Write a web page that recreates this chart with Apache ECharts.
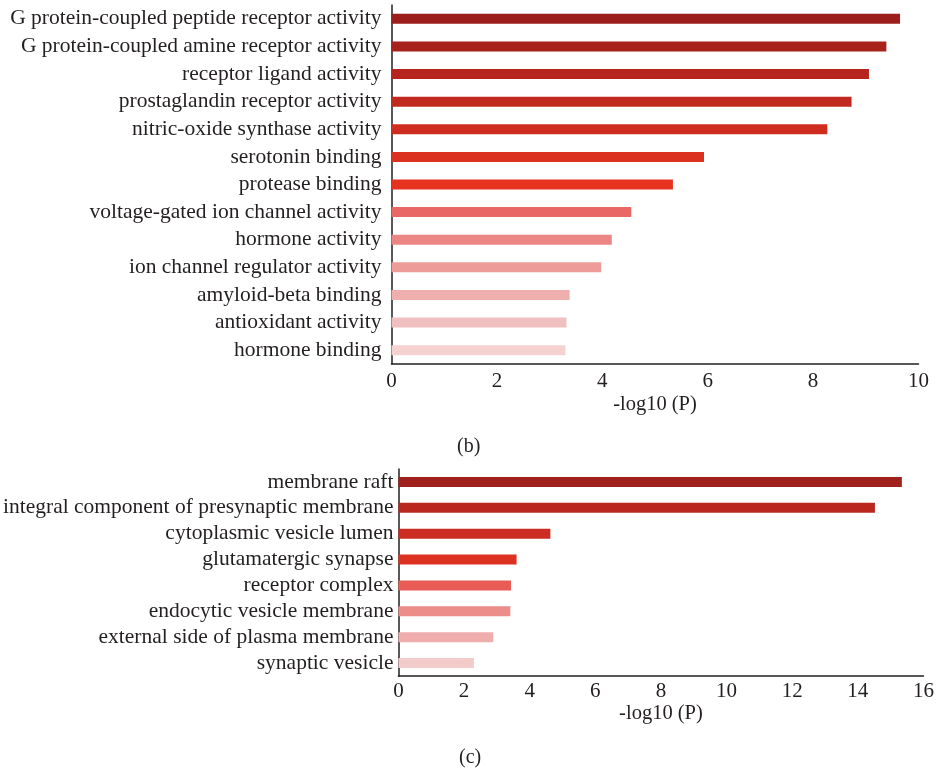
<!DOCTYPE html>
<html>
<head>
<meta charset="utf-8">
<script src="https://cdn.jsdelivr.net/npm/echarts@6/dist/echarts.min.js"></script>
<style>
  html, body { margin: 0; padding: 0; background: #ffffff; }
  #chart { width: 937px; height: 775px; }
</style>
</head>
<body>
<div id="chart"></div>
<script>
// (b) Molecular function terms, top to bottom
const mfTerms = [
  'G protein-coupled peptide receptor activity',
  'G protein-coupled amine receptor activity',
  'receptor ligand activity',
  'prostaglandin receptor activity',
  'nitric-oxide synthase activity',
  'serotonin binding',
  'protease binding',
  'voltage-gated ion channel activity',
  'hormone activity',
  'ion channel regulator activity',
  'amyloid-beta binding',
  'antioxidant activity',
  'hormone binding'
];
const mfValues = [9.65, 9.39, 9.06, 8.73, 8.27, 5.93, 5.34, 4.55, 4.18, 3.98, 3.38, 3.32, 3.30];
const mfColors = [
  '#9b1e1a', '#a8221c', '#b5251d', '#c1291e', '#cf2d1f', '#da3120', '#e53320',
  '#e96866', '#ec8684', '#ee9c9a', '#f0afaf', '#f0c0c0', '#f5d1d0'
];

// (c) Cellular component terms, top to bottom
const ccTerms = [
  'membrane raft',
  'integral component of presynaptic membrane',
  'cytoplasmic vesicle lumen',
  'glutamatergic synapse',
  'receptor complex',
  'endocytic vesicle membrane',
  'external side of plasma membrane',
  'synaptic vesicle'
];
const ccValues = [15.34, 14.52, 4.63, 3.60, 3.43, 3.41, 2.89, 2.30];
const ccColors = ['#a0201b', '#b9271f', '#cb2d22', '#dd3221', '#e95c55', '#ec8d8a', '#efadad', '#f3cbcb'];

// x-axis ticks
const mfAxisMax = 10;
const ccAxisMax = 16;
const tickStep = 2;
const axisTitle = '-log10 (P)';
const panelTags = ['(b)', '(c)'];

const FONT = 'Liberation Serif';
const INK = '#231f20';
const LABEL_SIZE = 21.5;

function barData(values, colors) {
  return values.map((v, i) => ({ value: v, itemStyle: { color: colors[i] } }));
}

function valueAxis(gridIndex, max, labelMargin, nameGap) {
  return {
    type: 'value', gridIndex, min: 0, max, interval: tickStep,
    name: axisTitle, nameLocation: 'middle', nameGap,
    nameTextStyle: { fontFamily: FONT, fontSize: 20.5, color: INK },
    axisLine: { show: true, lineStyle: { color: INK, width: 1.5 } },
    axisTick: { show: false },
    splitLine: { show: false },
    axisLabel: { fontFamily: FONT, fontSize: 21, color: INK, margin: labelMargin }
  };
}

function categoryAxis(gridIndex, terms, labelMargin) {
  return {
    type: 'category', gridIndex, data: terms, inverse: true,
    axisLine: { show: true, lineStyle: { color: INK, width: 1.5 } },
    axisTick: { show: false },
    axisLabel: { fontFamily: FONT, fontSize: LABEL_SIZE, color: INK, margin: labelMargin, interval: 0 }
  };
}

const chart = echarts.init(document.getElementById('chart'), null, { renderer: 'canvas' });
chart.setOption({
  backgroundColor: '#ffffff',
  animation: false,
  grid: [
    { left: 391.5, top: 5, width: 527, height: 359 },
    { left: 397.5, top: 469, width: 527.5, height: 207 }
  ],
  xAxis: [
    valueAxis(0, mfAxisMax, 7, 30),
    valueAxis(1, ccAxisMax, 5, 25)
  ],
  yAxis: [
    categoryAxis(0, mfTerms, 10),
    categoryAxis(1, ccTerms, 5)
  ],
  series: [
    { type: 'bar', xAxisIndex: 0, yAxisIndex: 0, barWidth: 10, data: barData(mfValues, mfColors) },
    { type: 'bar', xAxisIndex: 1, yAxisIndex: 1, barWidth: 10, data: barData(ccValues, ccColors) }
  ],
  graphic: [
    { type: 'text', left: 457, top: 437, style: { text: panelTags[0], font: '20px "' + FONT + '"', fill: INK } },
    { type: 'text', left: 459, top: 748, style: { text: panelTags[1], font: '20px "' + FONT + '"', fill: INK } }
  ]
});
</script>
</body>
</html>
